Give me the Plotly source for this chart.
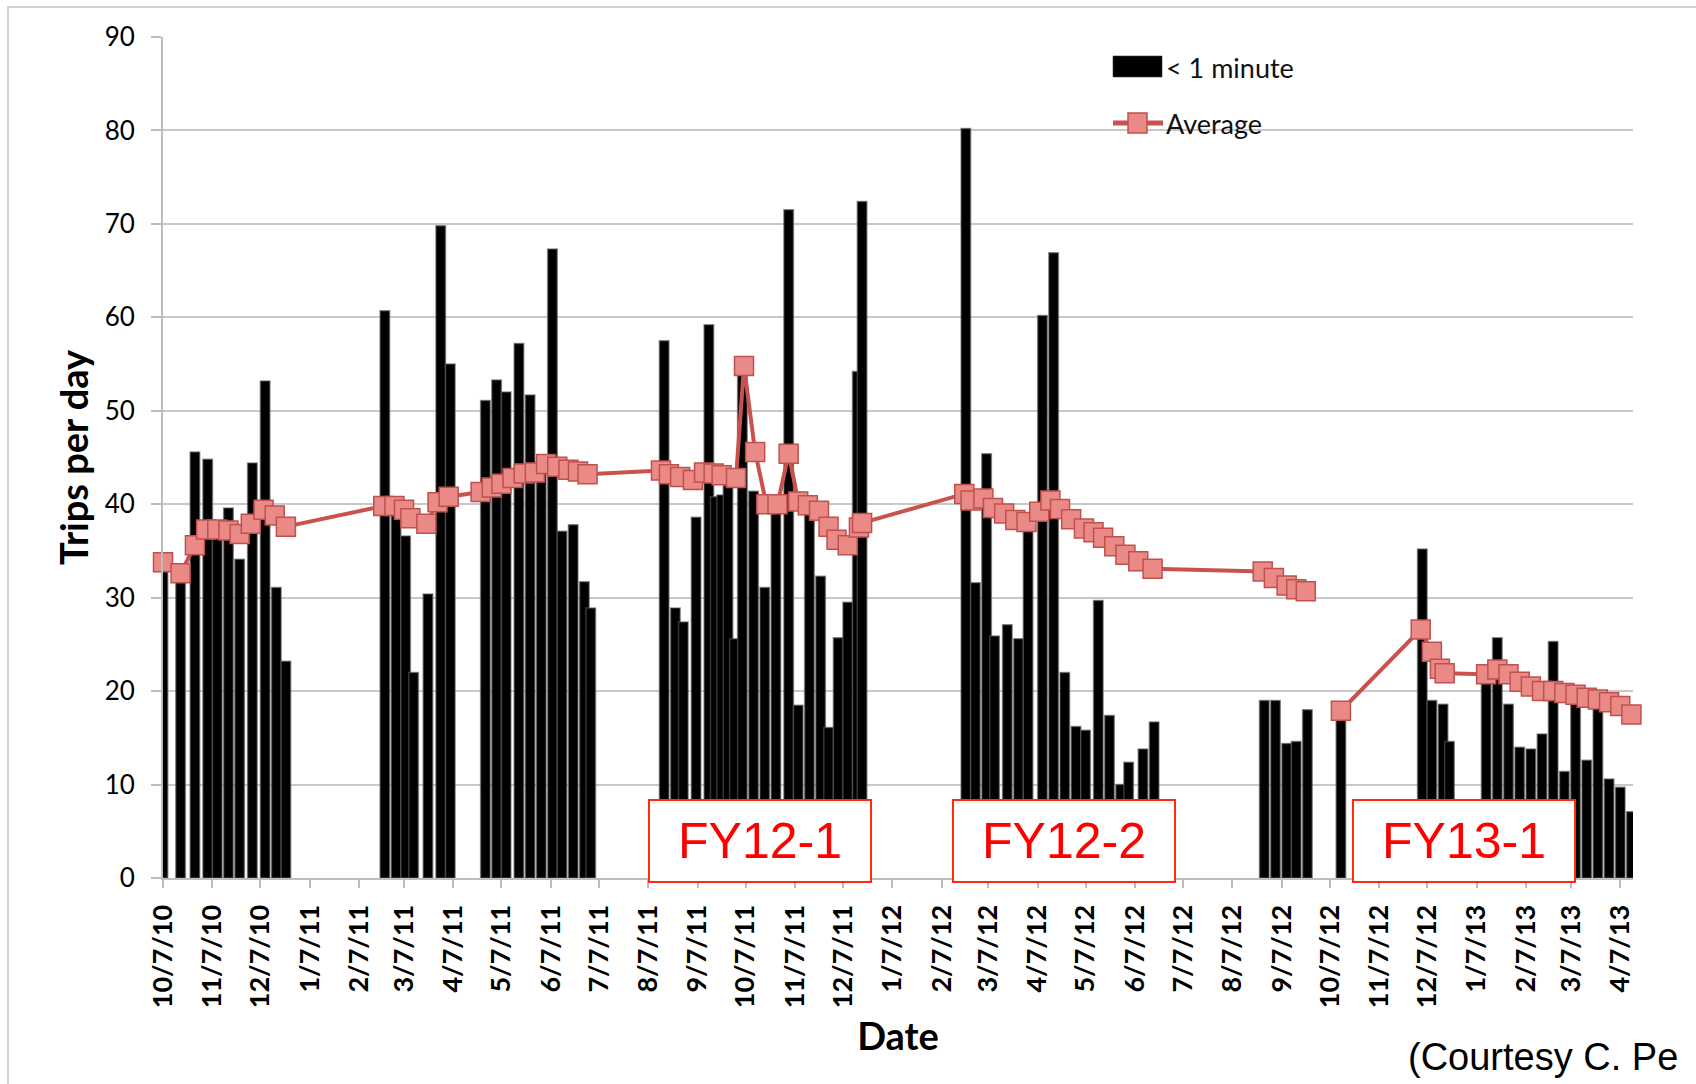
import pandas as pd
import plotly.graph_objects as go

# ---------------- data ----------------
tick_labels = ["10/7/10", "11/7/10", "12/7/10", "1/7/11", "2/7/11", "3/7/11", "4/7/11",
               "5/7/11", "6/7/11", "7/7/11", "8/7/11", "9/7/11", "10/7/11", "11/7/11",
               "12/7/11", "1/7/12", "2/7/12", "3/7/12", "4/7/12", "5/7/12", "6/7/12",
               "7/7/12", "8/7/12", "9/7/12", "10/7/12", "11/7/12", "12/7/12", "1/7/13",
               "2/7/13", "3/7/13", "4/7/13"]

bar_dates = [
    "2010-10-07", "2010-10-18", "2010-10-27", "2010-11-04", "2010-11-10", "2010-11-17",
    "2010-11-24", "2010-12-02", "2010-12-10", "2010-12-17", "2010-12-23",
    "2011-02-23", "2011-03-02", "2011-03-08", "2011-03-13", "2011-03-22", "2011-03-30",
    "2011-04-05",
    "2011-04-27", "2011-05-04", "2011-05-10", "2011-05-18", "2011-05-25", "2011-06-01",
    "2011-06-08", "2011-06-14", "2011-06-21", "2011-06-28", "2011-07-02",
    "2011-08-17", "2011-08-24", "2011-08-29", "2011-09-06", "2011-09-14", "2011-09-18",
    "2011-09-22", "2011-09-26", "2011-09-30", "2011-10-05", "2011-10-12", "2011-10-19",
    "2011-10-26", "2011-11-03", "2011-11-09", "2011-11-16", "2011-11-23", "2011-11-28",
    "2011-12-04", "2011-12-10", "2011-12-16", "2011-12-19",
    "2012-02-22", "2012-02-28", "2012-03-06", "2012-03-11", "2012-03-19", "2012-03-26",
    "2012-04-01", "2012-04-10", "2012-04-17", "2012-04-24", "2012-05-01", "2012-05-07",
    "2012-05-15", "2012-05-22", "2012-05-29", "2012-06-03", "2012-06-12", "2012-06-19",
    "2012-08-27", "2012-09-03", "2012-09-10", "2012-09-16", "2012-09-23",
    "2012-10-14", "2012-12-04", "2012-12-10", "2012-12-17", "2012-12-21",
    "2013-01-13", "2013-01-20", "2013-01-27", "2013-02-03", "2013-02-10", "2013-02-17",
    "2013-02-24", "2013-03-03", "2013-03-10", "2013-03-17", "2013-03-24", "2013-03-31",
    "2013-04-07", "2013-04-14"]

bar_values = [
    33, 32, 45.6, 44.8, 36.5, 39.6, 34.1, 44.4, 53.2, 31.1, 23.2,
    60.7, 39.5, 36.6, 22, 30.4, 69.8, 55,
    51.1, 53.3, 52, 57.2, 51.7, 44.7, 67.3, 37.1, 37.8, 31.7, 28.9,
    57.5, 28.9, 27.4, 38.6, 59.2, 40.8, 41.0, 42.0, 25.6, 54.5, 41.4, 31.1,
    40.0, 71.5, 18.5, 39.3, 32.3, 16.1, 25.7, 29.5, 54.2, 72.4,
    80.2, 31.6, 45.4, 25.9, 27.1, 25.6, 38, 60.2, 66.9, 22, 16.2, 15.8,
    29.7, 17.4, 10, 12.4, 13.8, 16.7,
    19, 19, 14.4, 14.6, 18,
    17.5, 35.2, 19, 18.6, 14.6,
    21.5, 25.7, 18.6, 14, 13.8, 15.4, 25.3, 11.4, 19, 12.6, 18.2, 10.6, 9.7, 7.1]

avg_dates = [
    "2010-10-07", "2010-10-18", "2010-10-27", "2010-11-03", "2010-11-10", "2010-11-17",
    "2010-11-24", "2010-12-01", "2010-12-09", "2010-12-16", "2010-12-23",
    "2011-02-22", "2011-03-01", "2011-03-07", "2011-03-11", "2011-03-21", "2011-03-28",
    "2011-04-04",
    "2011-04-24", "2011-05-01", "2011-05-07", "2011-05-14", "2011-05-21", "2011-05-28",
    "2011-06-04", "2011-06-11", "2011-06-18", "2011-06-24", "2011-06-30",
    "2011-08-15", "2011-08-20", "2011-08-27", "2011-09-04", "2011-09-11", "2011-09-17",
    "2011-09-22", "2011-10-01", "2011-10-06", "2011-10-13", "2011-10-20", "2011-10-27",
    "2011-11-03", "2011-11-09", "2011-11-15", "2011-11-22", "2011-11-28", "2011-12-03",
    "2011-12-10", "2011-12-17", "2011-12-19",
    "2012-02-21", "2012-02-25", "2012-03-04", "2012-03-10", "2012-03-17", "2012-03-24",
    "2012-03-31", "2012-04-08", "2012-04-15", "2012-04-21", "2012-04-28", "2012-05-06",
    "2012-05-12", "2012-05-18", "2012-05-25", "2012-06-01", "2012-06-09", "2012-06-18",
    "2012-08-26", "2012-09-02", "2012-09-10", "2012-09-16", "2012-09-22",
    "2012-10-01",
    "2012-10-14", "2012-12-03", "2012-12-10", "2012-12-15", "2012-12-18",
    "2013-01-13", "2013-01-20", "2013-01-27", "2013-02-03", "2013-02-10", "2013-02-17",
    "2013-02-24", "2013-03-03", "2013-03-10", "2013-03-17", "2013-03-24", "2013-03-31",
    "2013-04-07", "2013-04-14"]

avg_values = [
    33.8, 32.6, 35.6, 37.3, 37.3, 37.2, 36.8, 37.9, 39.4, 38.8, 37.6,
    39.8, 39.8, 39.4, 38.5, 37.9, 40.2, 40.8,
    41.3, 41.8, 42.2, 42.8, 43.3, 43.4, 44.3, 44.0, 43.7, 43.5, 43.2,
    43.6, 43.2, 42.9, 42.6, 43.4, 43.3, 43.1, 42.8, 54.8, 45.6, 40.0, 40.0,
    45.4, 40.3, 39.9, 39.3, 37.6, 36.2, 35.6, 37.5, 38.0,
    41.1, 40.4, 40.6, 39.6, 39.0, 38.3, 38.1, 39.2, 40.4, 39.5, 38.4, 37.4,
    37.0, 36.4, 35.5, 34.6, 33.9, 33.1,
    32.8, 32.1, 31.3, 30.9, 30.7,
    None,
    17.9, 26.6, 24.2, 22.4, 21.9,
    21.8, 22.3, 21.8, 21.0, 20.5, 20.0, 20.0, 19.8, 19.6, 19.3, 19.1, 18.8, 18.4, 17.5]

fy_labels = ["FY12-1", "FY12-2", "FY13-1"]
series_names = ["< 1 minute", "Average"]

# ---------------- figure ----------------
W, H = 1696, 1084
L, R, T, B = 163, 63, 37, 206
PW, PH = W - L - R, H - T - B


def px_x(px):
    return (px - L) / PW


def px_y(py):
    return (H - B - py) / PH


tick_dates = pd.to_datetime(tick_labels, format="%m/%d/%y")
DAY_MS = 86400000

fig = go.Figure()
fig.add_trace(go.Bar(
    x=pd.to_datetime(bar_dates), y=bar_values, name=series_names[0],
    width=[6 * DAY_MS] * len(bar_dates),
    marker=dict(color="black", line=dict(color="rgba(90,90,90,0.6)", width=1.5)),
    showlegend=False))
fig.add_trace(go.Scatter(
    x=pd.to_datetime(avg_dates), y=avg_values, name=series_names[1],
    mode="lines+markers", connectgaps=False, cliponaxis=False,
    line=dict(color="#c9524e", width=4),
    marker=dict(symbol="square", size=19, color="#ea8a86",
                line=dict(color="#c0504d", width=1.5)),
    showlegend=False))

axis_grey = "#bdbdbd"
fig.update_layout(
    width=W, height=H,
    margin=dict(l=L, r=R, t=T, b=B),
    paper_bgcolor="white", plot_bgcolor="white",
    barmode="overlay", showlegend=False,
    font=dict(family="Lato", color="black"),
    xaxis=dict(
        type="date", range=["2010-10-07", "2013-04-15"],
        tickvals=tick_dates, ticktext=tick_labels, tickangle=-90,
        ticks="outside", ticklen=8, tickwidth=2, tickcolor=axis_grey,
        showline=True, linecolor=axis_grey, linewidth=2, showgrid=False,
        zeroline=False, automargin=False, ticklabelstandoff=6,
        tickfont=dict(family="Lato", size=27, color="black", weight="bold"),
        title=dict(text="Date", standoff=16,
                   font=dict(family="Lato", size=38, color="black", weight="bold")),
    ),
    yaxis=dict(
        range=[0, 90], tick0=0, dtick=10,
        ticks="outside", ticklen=10, tickwidth=2, tickcolor=axis_grey,
        showline=True, linecolor=axis_grey, linewidth=2,
        showgrid=True, gridcolor="#c8c8c8", gridwidth=2,
        zeroline=False, automargin=False, ticklabelstandoff=11,
        tickfont=dict(family="Lato", size=26, color="black"),
        title=dict(text="Trips per day", standoff=4,
                   font=dict(family="Lato", size=38, color="black", weight="bold")),
    ),
)

shapes = []
# outer chart-area frame (continues past the right/bottom edges)
shapes.append(dict(type="rect", xref="paper", yref="paper",
                   x0=px_x(8), x1=px_x(1720), y0=px_y(1110), y1=px_y(7),
                   line=dict(color="#d2d2d2", width=2), fillcolor="rgba(0,0,0,0)",
                   layer="below"))
# custom legend symbols
shapes.append(dict(type="rect", xref="paper", yref="paper",
                   x0=px_x(1113), x1=px_x(1162), y0=px_y(77), y1=px_y(56),
                   fillcolor="black", line=dict(color="rgba(60,60,60,0.6)", width=1)))
shapes.append(dict(type="line", xref="paper", yref="paper",
                   x0=px_x(1113), x1=px_x(1163), y0=px_y(123), y1=px_y(123),
                   line=dict(color="#c9524e", width=5)))
shapes.append(dict(type="rect", xref="paper", yref="paper",
                   x0=px_x(1128), x1=px_x(1147), y0=px_y(133), y1=px_y(113),
                   fillcolor="#ea8a86", line=dict(color="#c0504d", width=1.5)))
fig.update_layout(shapes=shapes)

annotations = [
    dict(text=series_names[0], x=px_x(1164), y=px_y(67), xref="paper", yref="paper",
         xanchor="left", yanchor="middle", showarrow=False,
         font=dict(family="Lato", size=27, color="#111111")),
    dict(text=series_names[1], x=px_x(1164), y=px_y(124), xref="paper", yref="paper",
         xanchor="left", yanchor="middle", showarrow=False,
         font=dict(family="Lato", size=27, color="#111111")),
    dict(text="(Courtesy C. Pe", x=px_x(1406), y=px_y(1057), xref="paper", yref="paper",
         xanchor="left", yanchor="middle", showarrow=False,
         font=dict(family="Liberation Sans", size=38, color="black")),
]
fy_centers = [760, 1063.5, 1463.5]
for lab, cx in zip(fy_labels, fy_centers):
    annotations.append(dict(
        text=lab, x=px_x(cx), y=px_y(841), xref="paper", yref="paper",
        xanchor="center", yanchor="middle", showarrow=False,
        width=220, height=80, borderpad=0, borderwidth=2,
        bordercolor="#ff2a10", bgcolor="white",
        font=dict(family="Liberation Sans", size=50, color="#ff0000")))
fig.update_layout(annotations=annotations)

fig.write_html("out.html", config={"displayModeBar": False},
               post_script="document.body.style.margin='0px';")
